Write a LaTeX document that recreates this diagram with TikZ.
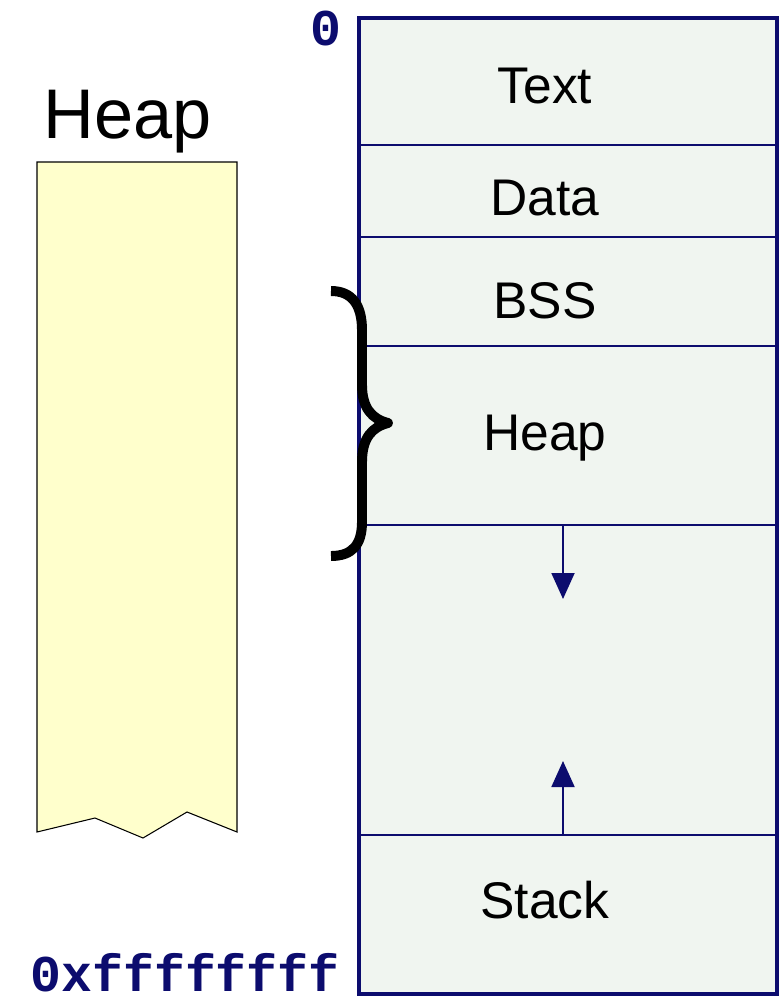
\documentclass[tikz,border=0pt]{standalone}
\usepackage{fontspec}
\setmainfont{Liberation Sans}
\setmonofont{Liberation Mono}
\usetikzlibrary{arrows.meta}
\definecolor{navy}{RGB}{12,12,110}
\definecolor{segfill}{RGB}{240,245,240}
\definecolor{heapfill}{RGB}{255,255,204}
\begin{document}
\begin{tikzpicture}[x=0.03cm, y=-0.03cm, seg/.style={font=\fontsize{44}{44}\selectfont, inner sep=0pt, anchor=base}, addr/.style={font=\fontsize{44}{44}\selectfont\ttfamily\bfseries, text=navy, inner sep=0pt, anchor=base east}, divider/.style={draw=navy, line width=1.6pt}, growarrow/.style={draw=navy, line width=1.6pt, -{Triangle[width=0.69cm, length=0.78cm]}}]
			\useasboundingbox (0,0) rectangle (781,1000);
			\filldraw[fill=heapfill, draw=black, line width=0.9pt] (37,832) -- (37,162) -- (237,162) -- (237,832) -- (187,812) -- (143,838) -- (95,818) -- cycle;
			\node[seg, font=\fontsize{60}{60}\selectfont] (heaplabel) at (128,138) {Heap};
			\filldraw[fill=segfill, draw=navy, line width=3.4pt] (359,18) rectangle (777,994);
			\coordinate (d1l) at (359,145); \coordinate (d1r) at (777,145);
			\coordinate (d2l) at (359,237); \coordinate (d2r) at (777,237);
			\coordinate (d3l) at (359,346); \coordinate (d3r) at (777,346);
			\coordinate (d4l) at (359,525); \coordinate (d4r) at (777,525);
			\coordinate (d5l) at (359,835); \coordinate (d5r) at (777,835);
			\draw[divider] (d1l) -- (d1r);
			\draw[divider] (d2l) -- (d2r);
			\draw[divider] (d3l) -- (d3r);
			\draw[divider] (d4l) -- (d4r);
			\draw[divider] (d5l) -- (d5r);
			\node[seg] (text) at (545,103) {Text};
			\node[seg] (data) at (545,215) {Data};
			\node[seg] (bss) at (545,318) {BSS};
			\node[seg] (heap) at (545,450) {Heap};
			\node[seg] (stack) at (545,918) {Stack};
			\coordinate (heapend) at (563,525);
			\coordinate (heapgrow) at (563,599);
			\coordinate (stackend) at (563,835);
			\coordinate (stackgrow) at (563,761);
			\draw[growarrow] (heapend) -- (heapgrow);
			\draw[growarrow] (stackend) -- (stackgrow);
			\node[addr] (low) at (342,45) {0};
			\node[addr] (high) at (340,991) {0xffffffff};
			\draw[line width=8.5pt, line join=round] (331,291) .. controls (352,291) and (362,305) .. (362,330) -- (362,385) .. controls (362,408) and (372,419) .. (388,423) .. controls (372,427) and (362,438) .. (362,462) -- (362,522) .. controls (362,545) and (352,556) .. (331,556);
		\end{tikzpicture}
\end{document}
